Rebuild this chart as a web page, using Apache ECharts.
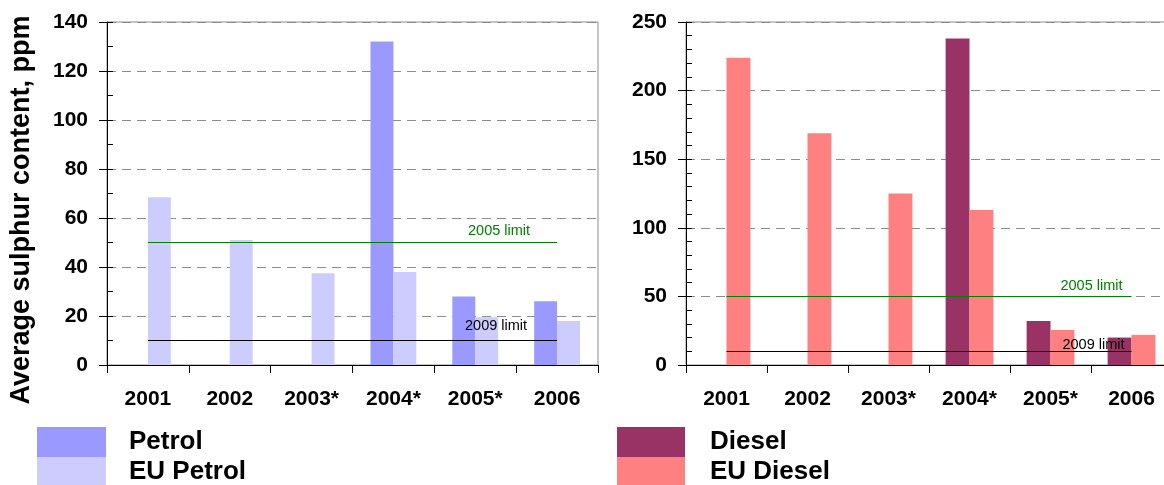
<!DOCTYPE html>
<html>
<head>
<meta charset="utf-8">
<style>
    html, body { margin: 0; padding: 0; background: #fff; }
    #chart { width: 1164px; height: 485px; }
</style>
</head>
<body>
<div id="chart"></div>
<script src="https://cdn.jsdelivr.net/npm/echarts@6/dist/echarts.min.js"></script>
<script>
    // categories and values
    var years = ['2001', '2002', '2003*', '2004*', '2005*', '2006'];
    var petrol = [null, null, null, 132, 28, 26];
    var euPetrol = [68.5, 51, 37.5, 38, 19.5, 18];
    var diesel = [null, null, null, 238, 32, 20];
    var euDiesel = [224, 169, 125, 113, 25.5, 22];
    var limitValues = [50, 10];
    var limitNames = ['2005 limit', '2009 limit'];
    var limitColors = ['#008000', '#000000'];

    var font = 'Liberation Sans, Arial, sans-serif';

    // limit lines from first to last category
    function limits(dist) {
        return limitValues.map(function (v, i) {
            return [
                {
                    coord: [0, v],
                    lineStyle: { color: limitColors[i], width: 1.2, type: 'solid' },
                    label: {
                        show: true,
                        formatter: limitNames[i],
                        position: 'insideEndTop',
                        distance: dist[i],
                        color: limitColors[i],
                        fontFamily: font,
                        fontSize: 14.5
                    }
                },
                { coord: [years.length - 1, v] }
            ];
        });
    }

    function xAxis(grid) {
        return {
            type: 'category',
            gridIndex: grid,
            data: years,
            axisLine: { lineStyle: { color: '#000', width: 1 } },
            axisTick: { show: true, length: 8, lineStyle: { color: '#000' } },
            axisLabel: { margin: 24, color: '#000', fontFamily: font, fontWeight: 'bold', fontSize: 21 },
            splitLine: { show: false }
        };
    }

    function yAxes(grid, max, step, minorStep) {
        return [{
            type: 'value',
            gridIndex: grid,
            position: 'left',
            min: 0, max: max, interval: step,
            axisLine: { show: true, lineStyle: { color: '#000', width: 1 } },
            axisTick: { show: true, length: 8, lineStyle: { color: '#000' } },
            axisLabel: { margin: 19, color: '#000', fontFamily: font, fontWeight: 'bold', fontSize: 21 },
            splitLine: { show: true, lineStyle: { color: '#8c8c8c', type: [9, 6], width: 1 } }
        }, {
            // inner minor ticks
            type: 'value',
            gridIndex: grid,
            position: 'left',
            min: 0, max: max, interval: minorStep,
            axisLine: { show: false },
            axisTick: { show: true, inside: true, length: 6, lineStyle: { color: '#000' } },
            axisLabel: { show: false },
            splitLine: { show: false }
        }];
    }

    var myChart = echarts.init(document.getElementById('chart'));
    var option = {
        animation: false,
        grid: [
            { left: 107, right: 566, top: 22, bottom: 120, show: true, borderColor: '#8c8c8c', borderWidth: 1, outerBoundsMode: 'none' },
            { left: 686, width: 486, top: 22, bottom: 120, show: true, borderColor: '#8c8c8c', borderWidth: 1, outerBoundsMode: 'none' }
        ],
        xAxis: [xAxis(0), xAxis(1)],
        yAxis: yAxes(0, 140, 20, 10).concat(yAxes(1, 250, 50, 10)),
        legend: [{
            data: ['Petrol', 'EU Petrol'],
            orient: 'vertical',
            left: 37, top: 427, height: 80, padding: 0,
            icon: 'rect',
            itemWidth: 69, itemHeight: 30, itemGap: 0,
            textStyle: { color: '#000', fontFamily: font, fontWeight: 'bold', fontSize: 26, lineHeight: 30, padding: [0, 0, 0, 18] }
        }, {
            data: ['Diesel', 'EU Diesel'],
            orient: 'vertical',
            left: 617, top: 427, height: 80, padding: 0,
            icon: 'rect',
            itemWidth: 68, itemHeight: 30, itemGap: 0,
            textStyle: { color: '#000', fontFamily: font, fontWeight: 'bold', fontSize: 26, lineHeight: 30, padding: [0, 0, 0, 20] }
        }],
        graphic: [{
            type: 'text',
            x: 22, y: 210,
            rotation: Math.PI / 2,
            style: {
                text: 'Average sulphur content, ppm',
                fill: '#000',
                font: 'bold 27px ' + font,
                align: 'center',
                verticalAlign: 'middle'
            }
        }],
        series: [{
            name: 'Petrol', type: 'bar', xAxisIndex: 0, yAxisIndex: 0,
            data: petrol, itemStyle: { color: '#9999ff' },
            barGap: '0%', barCategoryGap: '44%'
        }, {
            name: 'EU Petrol', type: 'bar', xAxisIndex: 0, yAxisIndex: 0,
            data: euPetrol, itemStyle: { color: '#ccccff' },
            barGap: '0%', barCategoryGap: '44%'
        }, {
            name: 'Diesel', type: 'bar', xAxisIndex: 1, yAxisIndex: 2,
            data: diesel, itemStyle: { color: '#993366' },
            barGap: '0%', barCategoryGap: '41%'
        }, {
            name: 'EU Diesel', type: 'bar', xAxisIndex: 1, yAxisIndex: 2,
            data: euDiesel, itemStyle: { color: '#ff8080' },
            barGap: '0%', barCategoryGap: '41%'
        }, {
            // carrier for the limit lines (left)
            name: 'limits-left', type: 'line', xAxisIndex: 0, yAxisIndex: 0,
            data: [], z: 5,
            markLine: { silent: true, symbol: 'none', data: limits([[27, 4], [30, 7]]) }
        }, {
            name: 'limits-right', type: 'line', xAxisIndex: 1, yAxisIndex: 2,
            data: [], z: 5,
            markLine: { silent: true, symbol: 'none', data: limits([[9, 3], [7, -1]]) }
        }]
    };
    myChart.setOption(option);
</script>
</body>
</html>
